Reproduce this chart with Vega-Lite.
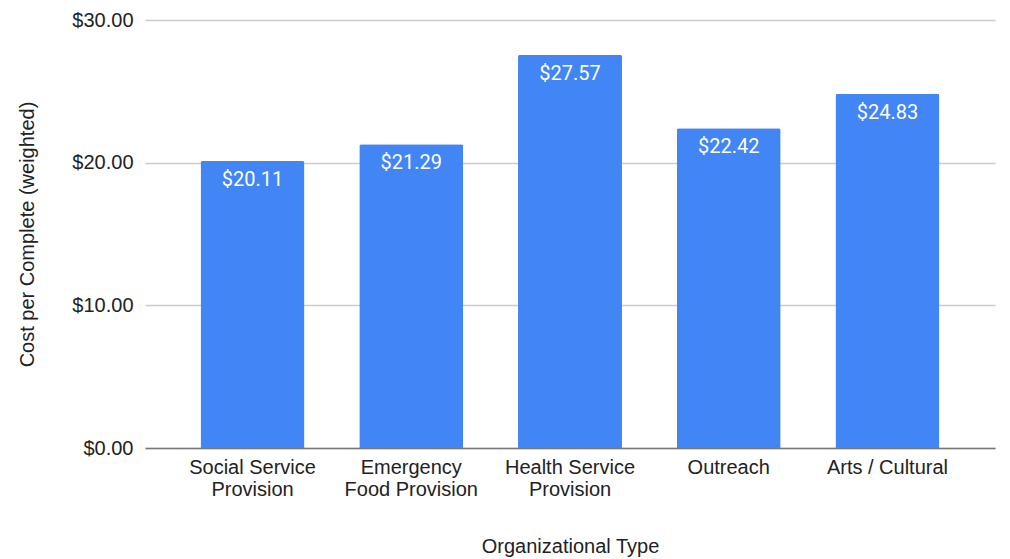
{
  "$schema": "https://vega.github.io/schema/vega-lite/v6.json",
  "width": 850,
  "height": 428,
  "autosize": {"type": "none"},
  "padding": {"left": 145, "top": 20, "right": 15, "bottom": 111},
  "background": "white",
  "config": {"view": {"stroke": null}},
  "data": {
    "values": [
      {"type": "Social Service Provision", "cost": 20.11},
      {"type": "Emergency Food Provision", "cost": 21.29},
      {"type": "Health Service Provision", "cost": 27.57},
      {"type": "Outreach", "cost": 22.42},
      {"type": "Arts / Cultural", "cost": 24.83}
    ]
  },
  "encoding": {
    "x": {
      "field": "type",
      "type": "nominal",
      "sort": null,
      "scale": {"paddingInner": 0.345, "paddingOuter": 0.35},
      "axis": {
        "title": "Organizational Type",
        "labelAngle": 0,
        "labelExpr": "datum.label == 'Social Service Provision' ? ['Social Service', 'Provision'] : datum.label == 'Emergency Food Provision' ? ['Emergency', 'Food Provision'] : datum.label == 'Health Service Provision' ? ['Health Service', 'Provision'] : datum.label",
        "labelFont": "Liberation Sans",
        "labelFontSize": 20,
        "labelColor": "#222222",
        "labelLineHeight": 22,
        "labelPadding": 9,
        "labelBaseline": "top",
        "ticks": false,
        "domain": true,
        "domainColor": "#777777",
        "domainWidth": 1.5,
        "titleFont": "Liberation Sans",
        "titleFontSize": 20,
        "titleFontWeight": "normal",
        "titleColor": "#222222",
        "titlePadding": 37
      }
    },
    "y": {
      "field": "cost",
      "type": "quantitative",
      "scale": {"domain": [0, 30], "nice": false},
      "axis": {
        "title": "Cost per Complete (weighted)",
        "values": [0, 10, 20, 30],
        "format": "$.2f",
        "labelFont": "Liberation Sans",
        "labelFontSize": 20,
        "labelColor": "#222222",
        "labelPadding": 12,
        "ticks": false,
        "domain": false,
        "gridColor": "#cccccc",
        "gridWidth": 1.3,
        "titleFont": "Liberation Sans",
        "titleFontSize": 20,
        "titleFontWeight": "normal",
        "titleColor": "#222222",
        "titlePadding": 34
      }
    }
  },
  "layer": [
    {
      "mark": {"type": "bar", "color": "#4285F4", "cornerRadiusTopLeft": 2, "cornerRadiusTopRight": 2}
    },
    {
      "mark": {"type": "text", "color": "white", "font": "Roboto", "fontSize": 20, "baseline": "middle", "dy": 19},
      "encoding": {"text": {"field": "cost", "type": "quantitative", "format": "$.2f"}}
    }
  ]
}
